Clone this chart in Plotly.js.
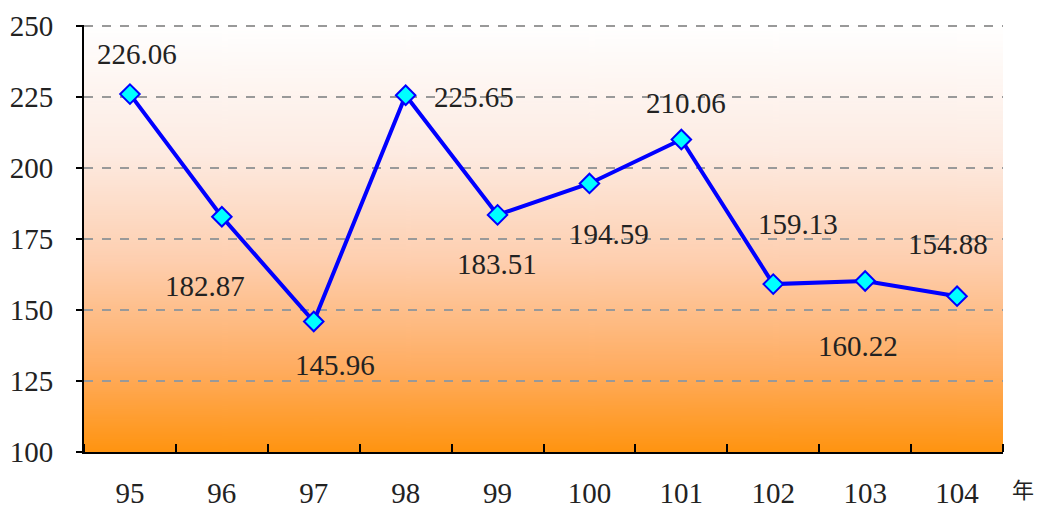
<!DOCTYPE html>
<html>
<head>
<meta charset="utf-8">
<script src="https://cdn.plot.ly/plotly-3.0.1.min.js"></script>
<style>html,body{margin:0;padding:0;background:#fff;}#chart{width:1043px;height:510px;}</style>
</head>
<body>
<div id="chart"></div>
<script>
// Data
const years = ["95", "96", "97", "98", "99", "100", "101", "102", "103", "104"];
const values = [226.06, 182.87, 145.96, 225.65, 183.51, 194.59, 210.06, 159.13, 160.22, 154.88];
const yTicks = [100, 125, 150, 175, 200, 225, 250];
const unitLabel = "年";

// Label offsets (styling only)
const labelShift = [[7, 40], [-17, -69], [21, -43], [68, -2], [-1, -49], [20, -51], [5, 37], [25, 60], [-7, -65], [-9, 52]];

// Gradient background image
const cv = document.createElement('canvas');
cv.width = 10; cv.height = 400;
const ctx = cv.getContext('2d');
const g = ctx.createLinearGradient(0, 0, 0, 400);
g.addColorStop(0, '#ffffff');
g.addColorStop(0.3, '#fdebe2');
g.addColorStop(0.55, '#fecfb0');
g.addColorStop(0.8, '#ffad62');
g.addColorStop(1, '#ff9410');
ctx.fillStyle = g;
ctx.fillRect(0, 0, 10, 400);
const bgURI = cv.toDataURL('image/png');

const xIdx = years.map((_, i) => i);
const font = "'Liberation Serif', 'DejaVu Serif', serif";

const trace = {
  x: xIdx, y: values, type: 'scatter', mode: 'lines+markers',
  line: {color: '#0000ff', width: 4},
  marker: {symbol: 'diamond', size: 15, color: '#00ffff', line: {color: '#0000ff', width: 2}},
  hoverinfo: 'skip', cliponaxis: false
};

const annotations = values.map((v, i) => ({
  x: i, y: v, xref: 'x', yref: 'y', text: v.toFixed(2), showarrow: false,
  xshift: labelShift[i][0], yshift: labelShift[i][1],
  font: {family: font, size: 29, color: '#222'}
}));
annotations.push({
  xref: 'paper', yref: 'paper', x: 1.022, y: -0.085, xanchor: 'center', yanchor: 'middle',
  text: unitLabel, showarrow: false,
  font: {family: "'Noto Sans CJK TC', 'Noto Sans CJK SC', sans-serif", size: 22, color: '#222'}
});

const layout = {
  width: 1043, height: 510,
  margin: {l: 84, r: 40, t: 25, b: 58},
  paper_bgcolor: '#ffffff', plot_bgcolor: 'rgba(0,0,0,0)',
  showlegend: false,
  images: [{source: bgURI, xref: 'paper', yref: 'paper', x: 0, y: 1, sizex: 1, sizey: 1,
            sizing: 'stretch', xanchor: 'left', yanchor: 'top', layer: 'below'}],
  xaxis: {
    range: [-0.5, 9.5], tickmode: 'array', tickvals: xIdx, ticktext: years,
    ticks: 'outside', ticklen: 14, tickcolor: 'rgba(0,0,0,0)', ticklabelstandoff: 0,
    showgrid: false, zeroline: false, showline: true, linecolor: '#000', linewidth: 2,
    tickfont: {family: font, size: 29, color: '#222'},
    minor: {tick0: -0.5, dtick: 1, ticks: 'inside', ticklen: 8, tickwidth: 2, tickcolor: '#000', showgrid: false},
    fixedrange: true
  },
  yaxis: {
    range: [100, 250.4], tickmode: 'array', tickvals: yTicks,
    ticks: 'outside', ticklen: 6, tickwidth: 2, tickcolor: '#000', ticklabelstandoff: 17,
    showgrid: true, gridcolor: '#999999', griddash: 'dash', gridwidth: 1.5,
    zeroline: false, showline: true, linecolor: '#000', linewidth: 2,
    tickfont: {family: font, size: 29, color: '#222'},
    fixedrange: true
  },
  annotations: annotations
};

Plotly.newPlot('chart', [trace], layout, {displayModeBar: false, staticPlot: true});
</script>
</body>
</html>
